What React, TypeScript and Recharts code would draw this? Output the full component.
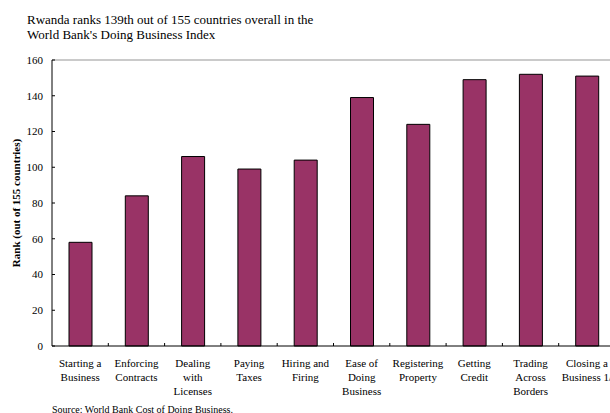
import React from "react";
import { BarChart, Bar, XAxis, YAxis, ReferenceLine, Label } from "recharts";

const categories: string[] = [
  "Starting a\nBusiness",
  "Enforcing\nContracts",
  "Dealing\nwith\nLicenses",
  "Paying\nTaxes",
  "Hiring and\nFiring",
  "Ease of\nDoing\nBusiness",
  "Registering\nProperty",
  "Getting\nCredit",
  "Trading\nAcross\nBorders",
  "Closing a\nBusiness 1/",
];
const ranks: number[] = [58, 84, 106, 99, 104, 139, 124, 149, 152, 151];
const yTicks: number[] = [0, 20, 40, 60, 80, 100, 120, 140, 160];

const titleLines = [
  "Rwanda ranks 139th out of 155 countries overall in the",
  "World Bank's Doing Business Index",
];
const sourceText = "Source: World Bank Cost of Doing Business.";
const yAxisTitle = "Rank (out of 155 countries)";

const data = categories.map((c, i) => ({ name: c, rank: ranks[i] }));

const FONT = "'Liberation Serif', 'Times New Roman', serif";
const CHART_W = 640;
const CHART_H = 413;
const M = { top: 60, right: 25, left: 0, bottom: 0 };
const Y_W = 52;
const X_H = 67;
const PLOT_W = CHART_W - M.left - M.right - Y_W;
const BAND = PLOT_W / categories.length;

const XTick = (props: any) => {
  const { x, y, payload, index } = props;
  const lines = String(payload.value).split("\n");
  return (
    <g>
      {index < categories.length - 1 && (
        <line x1={x + BAND / 2} x2={x + BAND / 2} y1={y} y2={y - 3} stroke="#000" strokeWidth={1} />
      )}
      <text x={x} y={y} textAnchor="middle" fontFamily={FONT} fontSize={11} fill="#000">
        {lines.map((l, i) => (
          <tspan key={i} x={x} y={y + 21 + i * 14}>
            {l}
          </tspan>
        ))}
      </text>
    </g>
  );
};

const YTick = (props: any) => {
  const { x, y, payload } = props;
  return (
    <g>
      <line x1={x} x2={x + 3} y1={y} y2={y} stroke="#000" strokeWidth={1} />
      <text x={x - 9} y={y} dy="0.35em" textAnchor="end" fontFamily={FONT} fontSize={11} fill="#000">
        {payload.value}
      </text>
    </g>
  );
};

const YLabel = () => (
  <text
    x={16}
    y={203}
    transform="rotate(-90 16 203)"
    textAnchor="middle"
    dy="0.35em"
    fontFamily={FONT}
    fontSize={11}
    fontWeight="bold"
    fill="#000"
  >
    {yAxisTitle}
  </text>
);

export default function App() {
  return (
    <div
      style={{
        position: "absolute",
        left: 0,
        top: 0,
        width: 610,
        height: 413,
        overflow: "hidden",
        background: "#fff",
        fontFamily: FONT,
      }}
    >
      <div
        style={{
          position: "absolute",
          left: 27,
          top: 13.4,
          fontSize: 13,
          lineHeight: "14.5px",
          whiteSpace: "nowrap",
          color: "#000",
        }}
      >
        {titleLines.map((t, i) => (
          <div key={i}>{t}</div>
        ))}
      </div>
      <div style={{ position: "absolute", left: 0, top: 0 }}>
        <BarChart width={CHART_W} height={CHART_H} data={data} margin={M}>
          <ReferenceLine y={160} stroke="#b8b8b8" strokeWidth={1.5} />
          <XAxis
            dataKey="name"
            height={X_H}
            interval={0}
            tickSize={0}
            tickMargin={0}
            tickLine={false}
            axisLine={{ stroke: "#000", strokeWidth: 1 }}
            tick={<XTick />}
          />
          <YAxis
            width={Y_W}
            domain={[0, 160]}
            ticks={yTicks}
            interval={0}
            tickSize={0}
            tickMargin={0}
            tickLine={false}
            axisLine={{ stroke: "#000", strokeWidth: 1 }}
            tick={<YTick />}
          >
            <Label content={<YLabel />} />
          </YAxis>
          <Bar dataKey="rank" fill="#993366" stroke="#000" strokeWidth={1} barSize={23} isAnimationActive={false} />
        </BarChart>
      </div>
      <div
        style={{
          position: "absolute",
          left: 52,
          top: 404.6,
          fontSize: 10,
          lineHeight: "10px",
          whiteSpace: "nowrap",
          color: "#000",
        }}
      >
        {sourceText}
      </div>
    </div>
  );
}
